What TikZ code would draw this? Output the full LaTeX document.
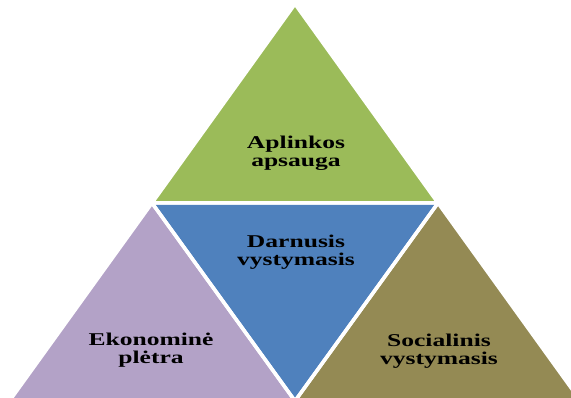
\documentclass[tikz,border=0pt]{standalone}
\usepackage{fontspec}
\newfontfamily\lblfont[FakeStretch=1.42]{Liberation Serif}
\definecolor{cgreen}{RGB}{155,187,89}
\definecolor{cpurple}{RGB}{179,162,199}
\definecolor{cblue}{RGB}{79,129,189}
\definecolor{colive}{RGB}{148,138,84}
\tikzset{
  piece/.style={draw=white, line width=3.5pt, line join=miter},
  lbl/.style={align=center, inner sep=0pt, font=\fontsize{18}{18}\lblfont\bfseries\selectfont, text=black}
}
\begin{document}
\begin{tikzpicture}[x=1pt,y=-1pt]
\useasboundingbox (0,0) rectangle (571,398);
\begin{scope}
\clip (0,0) rectangle (571,398);
\coordinate (A) at (295,4);
\coordinate (B) at (152,203);
\coordinate (C) at (438,203);
\coordinate (D) at (8,403);
\coordinate (E) at (295,401);
\coordinate (F) at (582,403);
\fill[cgreen] (A) -- (B) -- (C) -- cycle;
\fill[cpurple] (B) -- (D) -- (E) -- cycle;
\fill[cblue] (B) -- (C) -- (E) -- cycle;
\fill[colive] (C) -- (E) -- (F) -- cycle;
\draw[piece] (A) -- (B) -- (C) -- cycle;
\draw[piece] (B) -- (D) -- (E) -- cycle;
\draw[piece] (B) -- (C) -- (E) -- cycle;
\draw[piece] (C) -- (E) -- (F) -- cycle;
\end{scope}
\node[lbl] (env) at (296,153) {Aplinkos\\apsauga};
\node[lbl] (sust) at (296,252) {Darnusis\\vystymasis};
\node[lbl] (econ) at (151,350) {Ekonominė\\plėtra};
\node[lbl] (soc) at (439,351) {Socialinis\\vystymasis};
\end{tikzpicture}
\end{document}
